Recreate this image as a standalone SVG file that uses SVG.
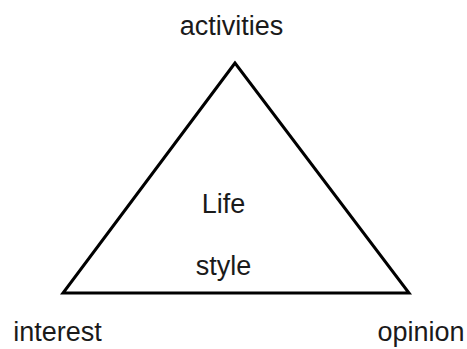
<svg xmlns="http://www.w3.org/2000/svg" width="467" height="349" viewBox="0 0 467 349">
<style>
text{font-family:"Liberation Sans",Arial,sans-serif;font-size:27px;fill:#1a1a1a;text-anchor:middle}
.edge{fill:none;stroke:#000;stroke-width:3;stroke-linejoin:miter}
</style>
<rect width="467" height="349" fill="#fff"/>
<g id="connectors">
<polygon class="edge" points="235,63 63,293 409,293"/>
</g>
<g id="activities"><text x="231.5" y="35">activities</text></g>
<g id="interest"><text x="57.5" y="341">interest</text></g>
<g id="opinion"><text x="421" y="341">opinion</text></g>
<g id="lifestyle"><text x="223.5" y="213">Life</text><text x="223.5" y="275">style</text></g>
</svg>
